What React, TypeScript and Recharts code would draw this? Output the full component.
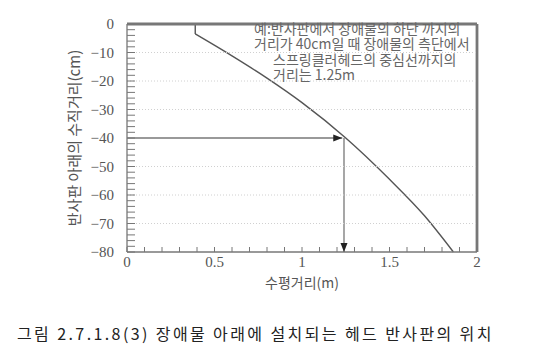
import {
  ComposedChart, Line, XAxis, YAxis, Label,
} from 'recharts';

// curve: vertical distance of the deflector below the obstruction vs horizontal distance
const STUB_X = [0.39, 0.39];
const STUB_Y = [0, -3.5];
const CURVE_X = [0.39, 0.6, 0.8, 1.0, 1.25, 1.5, 1.7, 1.865];
const CURVE_Y = [-3.5, -11.2, -19, -27.6, -40, -54.5, -67.3, -80];

// example reading: 40cm -> 1.25m
const EXAMPLE_X = [0, 1.23];
const EXAMPLE_Y = [-40, -40];
const DROP_X = [1.24, 1.24];
const DROP_Y = [-40, -80];

const X_TICKS = [
  0, 0.1, 0.2, 0.3, 0.4, 0.5, 0.6, 0.7, 0.8, 0.9, 1,
  1.1, 1.2, 1.3, 1.4, 1.5, 1.6, 1.7, 1.8, 1.9, 2,
];
const X_LABELS = ['0', '0.5', '1', '1.5', '2'];

const Y_TICKS = [
  0, -2, -4, -6, -8, -10, -12, -14, -16, -18, -20,
  -22, -24, -26, -28, -30, -32, -34, -36, -38, -40,
  -42, -44, -46, -48, -50, -52, -54, -56, -58, -60,
  -62, -64, -66, -68, -70, -72, -74, -76, -78, -80,
];
const Y_LABELS = ['0', '−10', '−20', '−30', '−40', '−50', '−60', '−70', '−80'];
const GRID_Y = [-10, -20, -30, -50, -60, -70];
const X_MIN = 0;
const X_MAX = 2;
const Y_MIN = -80;
const Y_MAX = 0;

const NOTE_LINES = [
  '예:반사판에서 장애물의 하단 까지의',
  '거리가 40cm일 때 장애물의 측단에서',
  '스프링클러헤드의 중심선까지의',
  '거리는 1.25m',
];

const CAPTION = '그림 2.7.1.8(3) 장애물 아래에 설치되는 헤드 반사판의 위치';

const AXIS = '#777';
const INK = '#555';
const SERIF = '"Liberation Serif", "DejaVu Serif", serif';
const KR = '"Noto Sans CJK KR", sans-serif';

const toPoints = (xs: number[], ys: number[]) => xs.map((x, i) => ({ x, y: ys[i] }));

const stubData = toPoints(STUB_X, STUB_Y);
const curveData = toPoints(CURVE_X, CURVE_Y);
const exampleData = toPoints(EXAMPLE_X, EXAMPLE_Y);
const dropData = toPoints(DROP_X, DROP_Y);
// frame (top + right edges) and faint dotted guides
const topEdge = toPoints([X_MIN, X_MAX], [Y_MAX, Y_MAX]);
const rightEdge = toPoints([X_MAX, X_MAX], [Y_MAX, Y_MIN]);
const guides = GRID_Y.map((v) => toPoints([X_MIN, X_MAX], [v, v]));

const fmtX = (v: number) => {
  const s = String(Math.round(v * 10) / 10);
  return X_LABELS.includes(s) ? s : null;
};
const fmtY = (v: number) => {
  const s = v === 0 ? '0' : '−' + Math.abs(v);
  return Y_LABELS.includes(s) ? s : null;
};

// minor ticks point into the plot, labels only on the major ones
const XTick = (props: any) => {
  const { x, y, payload } = props;
  const label = fmtX(payload.value);
  return (
    <g>
      <path d={`M${x},${y}V${y - 5}`} stroke={AXIS} strokeWidth={1} />
      {label && (
        <text x={x} y={y + 15} textAnchor="middle" fill={INK} fontSize={15} fontFamily={SERIF}>
          {label}
        </text>
      )}
    </g>
  );
};

const YTick = (props: any) => {
  const { x, y, payload } = props;
  const label = fmtY(payload.value);
  return (
    <g>
      <path d={`M${x},${y}H${x + 8}`} stroke={AXIS} strokeWidth={1} />
      {label && (
        <text x={x - 13} y={y} dy={5} textAnchor="end" fill={INK} fontSize={15} fontFamily={SERIF}>
          {label}
        </text>
      )}
    </g>
  );
};

const ArrowRight = (props: any) => {
  const { cx, cy, index } = props;
  if (index !== 1) return <g key={`ar${index}`} />;
  return (
    <polygon key={`ar${index}`} points={`${cx},${cy} ${cx - 9},${cy - 3.5} ${cx - 9},${cy + 3.5}`} fill="#222" />
  );
};

const ArrowDown = (props: any) => {
  const { cx, cy, index } = props;
  if (index !== 1) return <g key={`ad${index}`} />;
  return (
    <polygon key={`ad${index}`} points={`${cx},${cy} ${cx - 3.5},${cy - 9} ${cx + 3.5},${cy - 9}`} fill="#222" />
  );
};

export default function App() {
  return (
    <div style={{ position: 'absolute', left: 0, top: 0, width: 551, height: 359, background: '#fff', fontFamily: KR }}>
      <ComposedChart
        width={551}
        height={305}
        margin={{ top: 24, right: 74, bottom: 13, left: 67 }}
      >
        <XAxis
          dataKey="x"
          type="number"
          domain={[X_MIN, X_MAX]}
          ticks={X_TICKS}
          interval={0}
          height={40}
          tickSize={0}
          tickMargin={0}
          tickLine={false}
          axisLine={{ stroke: AXIS, strokeWidth: 1.3 }}
          tick={(p: any) => <XTick {...p} />}
        >
          <Label value="수평거리(m)" position="insideBottom" offset={4} fill={INK} fontSize={14} fontFamily={KR} />
        </XAxis>
        <YAxis
          type="number"
          domain={[Y_MIN, Y_MAX]}
          ticks={Y_TICKS}
          interval={0}
          width={60}
          tickSize={0}
          tickMargin={0}
          tickLine={false}
          axisLine={{ stroke: AXIS, strokeWidth: 1.3 }}
          tick={(p: any) => <YTick {...p} />}
        >
          <Label value="반사판 아래의 수직거리(cm)" angle={-90} position="insideLeft" offset={8}
            textAnchor="middle" fill={INK} fontSize={15} fontFamily={KR} />
        </YAxis>

        <Line data={exampleData} dataKey="y" type="linear" stroke="#777" strokeWidth={1.3}
          dot={ArrowRight} activeDot={false} isAnimationActive={false} />
        <Line data={dropData} dataKey="y" type="linear" stroke="#777" strokeWidth={1.3}
          dot={ArrowDown} activeDot={false} isAnimationActive={false} />
        <Line data={stubData} dataKey="y" type="linear" stroke="#555" strokeWidth={1.4}
          dot={false} activeDot={false} isAnimationActive={false} />
        <Line data={curveData} dataKey="y" type="monotone" stroke="#555" strokeWidth={1.4}
          dot={false} activeDot={false} isAnimationActive={false} />
        {/* edges sit on the plot boundary and get half-clipped, so draw them twice as thick */}
        <Line data={topEdge} dataKey="y" type="linear" stroke={AXIS} strokeWidth={2.8}
          dot={false} activeDot={false} isAnimationActive={false} />
        <Line data={rightEdge} dataKey="y" type="linear" stroke={AXIS} strokeWidth={2.8}
          dot={false} activeDot={false} isAnimationActive={false} />
        {guides.map((g, i) => (
          <Line key={`g${i}`} data={g} dataKey="y" type="linear" stroke="#d0d0d0" strokeWidth={1}
            strokeDasharray="1 2" dot={false} activeDot={false} isAnimationActive={false} />
        ))}
      </ComposedChart>

      <div style={{
        position: 'absolute', left: 254, top: 21, fontSize: 14, lineHeight: '15.3px',
        color: '#666', whiteSpace: 'nowrap',
      }}>
        {NOTE_LINES.map((t, i) => (
          <div key={i} style={{ paddingLeft: i < 2 ? 0 : 19 }}>{t}</div>
        ))}
      </div>

      <div style={{
        position: 'absolute', left: 17, top: 322, fontSize: 16, lineHeight: '22px',
        color: '#222', whiteSpace: 'nowrap', letterSpacing: 2.4,
      }}>{CAPTION}</div>
    </div>
  );
}
